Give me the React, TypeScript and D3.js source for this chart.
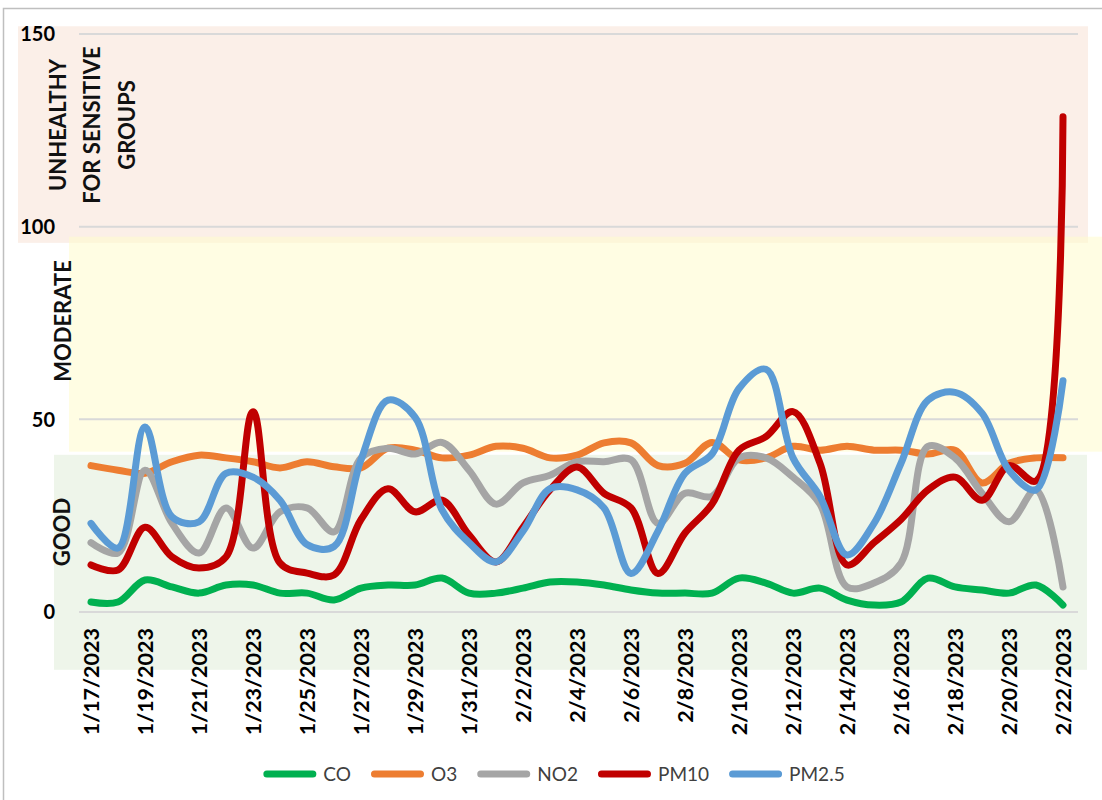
import React, { useRef, useEffect } from 'react';
import * as d3 from 'd3';

// daily readings, 1/17/2023 - 2/22/2023
const dates = [
  '1/17/2023', '1/18/2023', '1/19/2023', '1/20/2023', '1/21/2023', '1/22/2023', '1/23/2023',
  '1/24/2023', '1/25/2023', '1/26/2023', '1/27/2023', '1/28/2023', '1/29/2023', '1/30/2023',
  '1/31/2023', '2/1/2023', '2/2/2023', '2/3/2023', '2/4/2023', '2/5/2023', '2/6/2023',
  '2/7/2023', '2/8/2023', '2/9/2023', '2/10/2023', '2/11/2023', '2/12/2023', '2/13/2023',
  '2/14/2023', '2/15/2023', '2/16/2023', '2/17/2023', '2/18/2023', '2/19/2023', '2/20/2023',
  '2/21/2023', '2/22/2023'
];

const co = [2.6, 2.6, 8.3, 6.5, 4.9, 7, 7, 4.9, 4.9, 3.1, 6.2, 7, 7, 8.8, 4.9, 4.9, 6.2, 7.8, 7.8,
  7, 5.7, 4.9, 4.9, 4.9, 8.8, 7.5, 4.9, 6.2, 3.1, 1.8, 2.6, 8.8, 6.5, 5.7, 4.9, 7, 1.8];
const o3 = [38, 36.8, 36, 39, 40.7, 40, 39, 37.4, 39, 37.7, 37.4, 42.5, 42, 40, 40.7, 43, 42.5, 40,
  40.7, 43.9, 43.9, 38, 38.6, 44, 39.5, 40, 43, 42, 43, 42, 42, 41, 42, 33.5, 38.6, 40, 40];
const no2 = [18, 15.3, 36.8, 23, 15.3, 27, 16.6, 26, 27, 20.8, 40, 42.5, 41, 44, 36.8, 28, 33.5,
  35.5, 39, 39, 39.5, 23, 30.8, 30, 40, 40, 35, 28, 6.5, 7.5, 12.7, 43, 40, 30.8, 23.4, 31.7, 6.5];
const pm10 = [12.2, 10.9, 22, 14.3, 11.4, 14.3, 52, 12.7, 10.1, 9.6, 24, 32, 26, 29, 20, 13, 22,
  31.7, 37.6, 30.8, 27, 10, 20.5, 28, 42, 45.5, 52, 38.6, 12.2, 18, 24, 31.7, 35, 29, 38, 34, 128.5];
const pm25 = [23, 16.6, 48, 24.7, 23.4, 36, 35, 29, 17.5, 17, 39.5, 55, 50.6, 26.5, 18, 13, 21, 32,
  31.7, 27, 10, 21, 36, 41, 58, 63, 40, 30, 14.8, 23, 38.6, 55, 57, 51.6, 36.8, 31.7, 60];

const seriesNames = ['CO', 'O3', 'NO2', 'PM10', 'PM2.5'];
const seriesValues = [co, o3, no2, pm10, pm25];
const seriesColors = ['#00B050', '#ED7D31', '#A5A5A5', '#C00000', '#5B9BD5'];

const yTicks = [0, 50, 100, 150];

// AQI bands (value ranges as drawn)
const bandLabels = [['UNHEALTHY', 'FOR SENSITIVE', 'GROUPS'], ['MODERATE'], ['GOOD']];
const bandTop = [152, 97.4, 40.8];
const bandBottom = [95.8, 41.6, -15];
const bandColors = ['#FBEFE8', '#FFFBCC', '#EEF5EA'];

const W = 1102;
const H = 800;

const App = () => {
  const svgRef = useRef<SVGSVGElement>(null);

  useEffect(() => {
    const svg = d3.select(svgRef.current);
    svg.selectAll('*').remove();

    const x = d3.scalePoint<string>().domain(dates).range([91, 1063]);
    const y = d3.scaleLinear().domain([0, 150]).range([612, 34]);

    svg.append('rect')
      .attr('width', W).attr('height', H).attr('fill', '#fff');

    // outer frame
    svg.append('rect')
      .attr('x', 3.5).attr('y', 8.5)
      .attr('width', W + 10).attr('height', H + 10)
      .attr('fill', 'none').attr('stroke', '#BFBFBF').attr('stroke-width', 1.5);

    // bands
    const bandX = [[18, 1088], [69, 1110], [54, 1087]];
    const bandOpacity = [1, 0.55, 1];
    bandColors.forEach((c, i) => {
      svg.append('rect')
        .attr('x', bandX[i][0])
        .attr('y', y(bandTop[i]))
        .attr('width', bandX[i][1] - bandX[i][0])
        .attr('height', y(bandBottom[i]) - y(bandTop[i]))
        .attr('fill', c)
        .attr('fill-opacity', bandOpacity[i]);
    });

    // gridlines
    svg.append('g')
      .selectAll('line')
      .data(yTicks)
      .join('line')
      .attr('x1', 79).attr('x2', 1078)
      .attr('y1', d => y(d)).attr('y2', d => y(d))
      .attr('stroke', '#D9D9D9').attr('stroke-width', 2);

    // y tick labels
    svg.append('g')
      .attr('font-family', 'Lato, sans-serif')
      .attr('font-weight', 'bold')
      .attr('font-size', 20)
      .attr('text-anchor', 'end')
      .selectAll('text')
      .data(yTicks)
      .join('text')
      .attr('x', 55)
      .attr('y', d => y(d))
      .attr('dy', '0.36em')
      .attr('fill', '#000')
      .text(d => d);

    // band labels
    const labelPos = [
      { xs: [58, 92, 127], cy: 125 },
      { xs: [63], cy: 321 },
      { xs: [62], cy: 532 }
    ];
    bandLabels.forEach((lines, i) => {
      lines.forEach((t, j) => {
        svg.append('text')
          .attr('transform', `translate(${labelPos[i].xs[j]},${labelPos[i].cy}) rotate(-90)`)
          .attr('text-anchor', 'middle')
          .attr('dy', '0.36em')
          .attr('font-family', 'Lato, sans-serif')
          .attr('font-weight', 'bold')
          .attr('font-size', 22)
          .attr('fill', '#111')
          .text(t);
      });
    });

    // x labels, every other day
    svg.append('g')
      .attr('font-family', 'Lato, sans-serif')
      .attr('font-weight', 'bold')
      .attr('font-size', 21.5)
      .attr('text-anchor', 'end')
      .selectAll('text')
      .data(dates.filter((d, i) => i % 2 === 0))
      .join('text')
      .attr('transform', d => `translate(${x(d)},628) rotate(-90)`)
      .attr('dy', '0.36em')
      .attr('fill', '#000')
      .text(d => d);

    // lines
    const line = d3.line<number>()
      .x((d, i) => x(dates[i]) as number)
      .y(d => y(d))
      .curve(d3.curveCatmullRom.alpha(0.5));

    seriesValues.forEach((vals, i) => {
      svg.append('path')
        .datum(vals)
        .attr('fill', 'none')
        .attr('stroke', seriesColors[i])
        .attr('stroke-width', 7)
        .attr('stroke-linecap', 'round')
        .attr('stroke-linejoin', 'round')
        .attr('d', line);
    });

    // legend
    const legend = svg.append('g')
      .attr('font-family', 'Lato, sans-serif')
      .attr('font-size', 19);
    const items = legend.selectAll('g')
      .data(seriesNames)
      .join('g');
    items.append('line')
      .attr('x1', 3.5).attr('x2', 49.5)
      .attr('y1', 0).attr('y2', 0)
      .attr('stroke', (d, i) => seriesColors[i])
      .attr('stroke-width', 7)
      .attr('stroke-linecap', 'round');
    items.append('text')
      .attr('x', 60)
      .attr('dy', '0.36em')
      .attr('fill', '#404040')
      .text(d => d);

    let offset = 0;
    const widths: number[] = [];
    items.each(function () {
      const t = d3.select(this).select('text').node() as SVGTextElement;
      widths.push(60 + t.getComputedTextLength());
    });
    const total = d3.sum(widths) + 20 * (widths.length - 1);
    let start = 554 - total / 2;
    items.attr('transform', (d, i) => {
      const tx = start + offset;
      offset += widths[i] + 20;
      return `translate(${tx},774)`;
    });
  }, []);

  return (
    <svg
      ref={svgRef}
      width={W}
      height={H}
      style={{ position: 'absolute', left: 0, top: 0 }}
    />
  );
};

export default App;
